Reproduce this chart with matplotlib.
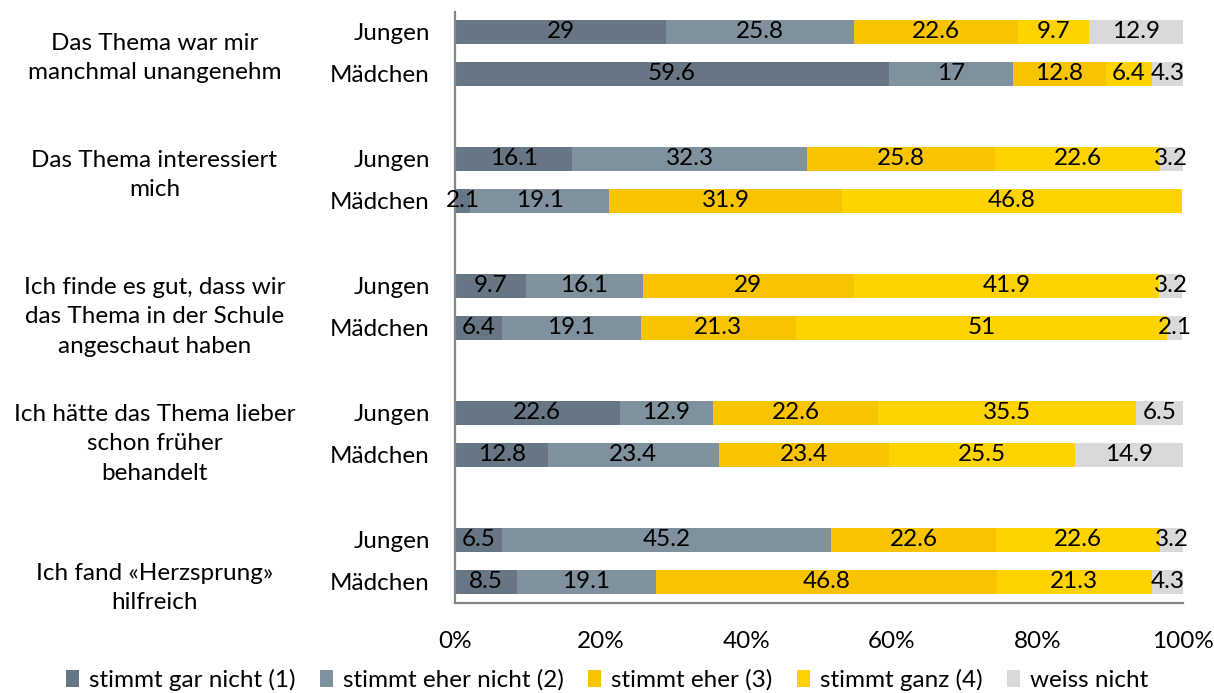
import numpy as np
import matplotlib.pyplot as plt
from matplotlib.patches import Patch

plt.rcParams['font.family'] = ['Lato', 'DejaVu Sans']

# ---- data ----
statements = ['Das Thema war mir\nmanchmal unangenehm',
              'Das Thema interessiert\nmich',
              'Ich finde es gut, dass wir\ndas Thema in der Schule\nangeschaut haben',
              'Ich hätte das Thema lieber\nschon früher\nbehandelt',
              'Ich fand «Herzsprung»\nhilfreich']
groups = ['Jungen', 'Mädchen']
categories = ['stimmt gar nicht (1)', 'stimmt eher nicht (2)', 'stimmt eher (3)',
              'stimmt ganz (4)', 'weiss nicht']
colors = ['#677685', '#7f919c', '#f8c300', '#ffd300', '#d9d9d9']

# rows: J1, M1, J2, M2, ... ; columns = categories
gar_nicht   = [29,   59.6, 16.1, 2.1,  9.7,  6.4,  22.6, 12.8, 6.5,  8.5]
eher_nicht  = [25.8, 17,   32.3, 19.1, 16.1, 19.1, 12.9, 23.4, 45.2, 19.1]
eher        = [22.6, 12.8, 25.8, 31.9, 29,   21.3, 22.6, 23.4, 22.6, 46.8]
ganz        = [9.7,  6.4,  22.6, 46.8, 41.9, 51,   35.5, 25.5, 22.6, 21.3]
weiss_nicht = [12.9, 4.3,  3.2,  0,    3.2,  2.1,  6.5,  14.9, 3.2,  4.3]
series = [gar_nicht, eher_nicht, eher, ganz, weiss_nicht]

# ---- layout ----
step = 127 / 42.0
ypos = []
for g in range(len(statements)):
    ypos += [g * step, g * step + 1]
ypos = np.array(ypos)

fig = plt.figure(figsize=(12.14, 6.93), dpi=100)
ax = fig.add_axes([455 / 1214, 1 - 603 / 693, 728 / 1214, 591 / 693])

left = np.zeros(len(ypos))
fs = 17.5
for vals, col, name in zip(series, colors, categories):
    vals = np.array(vals, dtype=float)
    bars = ax.barh(ypos, vals, left=left, height=0.57, color=col, label=name)
    labs = ['{:g}'.format(v) if v > 0 else '' for v in vals]
    ax.bar_label(bars, labels=labs, label_type='center', fontsize=fs, color='#000000')
    left += vals

ax.set_xlim(0, 100)
ax.set_ylim(ypos[-1] + 0.5, -0.476)
ax.set_yticks(ypos)
ax.set_yticklabels(groups * len(statements), fontsize=fs)
ax.set_xticks(np.arange(0, 101, 20))
ax.set_xticklabels(['{}%'.format(v) for v in range(0, 101, 20)], fontsize=fs)
ax.tick_params(axis='both', length=0)
ax.tick_params(axis='y', pad=18)
ax.tick_params(axis='x', pad=20)
for s in ['top', 'right']:
    ax.spines[s].set_visible(False)
for s in ['left', 'bottom']:
    ax.spines[s].set_color('#868686')
    ax.spines[s].set_linewidth(1.6)

# statement labels (left column)
offsets_px = [5, -5, 10, 10, 27]
for g, (txt, off) in enumerate(zip(statements, offsets_px)):
    yc = g * step + 0.5 + off / 42.0
    ax.text(-0.413, yc, txt, transform=ax.get_yaxis_transform(), ha='center', va='center',
            fontsize=fs, linespacing=1.5)

handles = [Patch(facecolor=c, edgecolor='none') for c in colors]
fig.legend(handles, categories, loc='center', bbox_to_anchor=(0.5, 1 - 680 / 693), ncol=5,
           frameon=False, fontsize=fs, handlelength=0.55, handleheight=0.7,
           handletextpad=0.4, columnspacing=1.0)

fig.savefig('out.png', dpi=100)
